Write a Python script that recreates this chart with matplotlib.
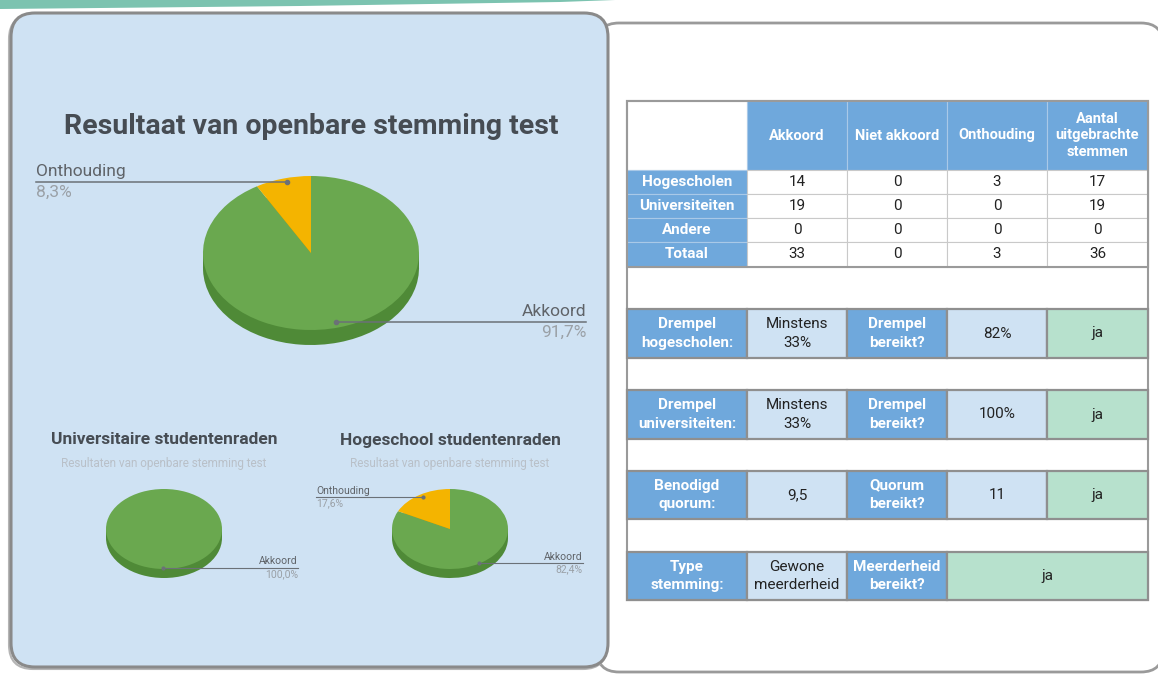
import matplotlib.pyplot as plt
from matplotlib.patches import FancyBboxPatch, Rectangle, Polygon

plt.rcParams['font.family'] = ['Roboto', 'DejaVu Sans']

W, H = 1158, 676

# ---- data ----
pie_labels = ['Akkoord', 'Onthouding']
totaal_pie = [33, 3]
univ_pie = [19, 0]
hoge_pie = [14, 3]

columns = ['Akkoord', 'Niet akkoord', 'Onthouding', 'Aantal\nuitgebrachte\nstemmen']
row_labels = ['Hogescholen', 'Universiteiten', 'Andere', 'Totaal']
akkoord = [14, 19, 0, 33]
niet_akkoord = [0, 0, 0, 0]
onthouding = [3, 0, 0, 3]
uitgebracht = [17, 19, 0, 36]

check_labels = ['Drempel\nhogescholen:', 'Drempel\nuniversiteiten:', 'Benodigd\nquorum:', 'Type\nstemming:']
check_required = ['Minstens\n33%', 'Minstens\n33%', '9,5', 'Gewone\nmeerderheid']
check_questions = ['Drempel\nbereikt?', 'Drempel\nbereikt?', 'Quorum\nbereikt?', 'Meerderheid\nbereikt?']
check_results = ['82%', '100%', '11', None]
check_answers = ['ja', 'ja', 'ja', 'ja']

# ---- colours ----
green, yellow = '#6aa84f', '#f4b400'
side_green, side_yellow = '#4f8a37', '#c89300'
blue, light_blue, mint = '#6fa8dc', '#cfe2f3', '#b7e1cd'
label_col, pct_col, line_col = '#5f6368', '#9aa0a6', '#6b7177'

fig = plt.figure(figsize=(W / 100, H / 100), dpi=100)
bg = fig.add_axes([0, 0, 1, 1], zorder=0)
bg.set_xlim(0, W)
bg.set_ylim(H, 0)
bg.axis('off')

# teal strip at the top
bg.add_patch(Polygon([(0, 0), (615, 0), (560, 2), (300, 6), (0, 9)], color='#7cc3b0', lw=0))

# right (white) panel and left (blue) panel
bg.add_patch(FancyBboxPatch((597, 23), 566, 649, boxstyle='round,pad=0,rounding_size=22',
                            facecolor='white', edgecolor='#9a9a9a', lw=2))
bg.add_patch(FancyBboxPatch((9, 15), 598, 654, boxstyle='round,pad=0,rounding_size=24',
                            facecolor='none', edgecolor='#b5b5b5', lw=1.5))
bg.add_patch(FancyBboxPatch((11, 13), 597, 654, boxstyle='round,pad=0,rounding_size=24',
                            facecolor='#cfe2f3', edgecolor='#8a8a8a', lw=2.2))


def fmt_pct(v, total):
    return f'{v / total * 100:.1f}%'.replace('.', ',')


def draw_pie(values, cx, cy, rx, ry, depth):
    ax = fig.add_axes([(cx - rx) / W, 1 - (cy + ry + depth) / H, 2 * rx / W, (2 * ry + depth) / H],
                      zorder=2)
    dd = depth / ry
    ax.add_patch(Rectangle((-1, -dd), 2, dd, color=side_green, lw=0))
    ax.pie(values, colors=[side_green, side_yellow], startangle=90, counterclock=False,
           center=(0, -dd), wedgeprops={'linewidth': 0})
    ax.pie(values, colors=[green, yellow], startangle=90, counterclock=False,
           wedgeprops={'linewidth': 0})
    ax.set_aspect('auto')
    ax.set_xlim(-1, 1)
    ax.set_ylim(-1 - dd, 1)
    ax.axis('off')


draw_pie(totaal_pie, 311, 253, 108, 77, 15)
draw_pie(univ_pie, 164, 529, 58, 40, 9)
draw_pie(hoge_pie, 450, 529, 58, 40, 9)

ov = fig.add_axes([0, 0, 1, 1], zorder=3)
ov.set_xlim(0, W)
ov.set_ylim(H, 0)
ov.axis('off')


def pie_label(name, pct, y, x0, x1, side, size, gap):
    ov.plot([x0, x1], [y, y], color=line_col, lw=1.1 if size > 9 else 0.8)
    dot_x = x1 if side == 'left' else x0
    ov.plot([dot_x], [y], 'o', color=line_col, ms=3 if size > 9 else 2)
    tx = x0 if side == 'left' else x1
    ha = 'left' if side == 'left' else 'right'
    ov.text(tx, y - gap, name, ha=ha, va='bottom', color=label_col, fontsize=size)
    ov.text(tx, y + gap, pct, ha=ha, va='top', color=pct_col, fontsize=size)


tot = sum(totaal_pie)
pie_label(pie_labels[1], fmt_pct(totaal_pie[1], tot), 182, 36, 287, 'left', 12.5, 3)
pie_label(pie_labels[0], fmt_pct(totaal_pie[0], tot), 322, 336, 586, 'right', 12.5, 3)
pie_label(pie_labels[0], fmt_pct(univ_pie[0], sum(univ_pie)), 568, 163, 298, 'right', 7.5, 1.5)
pie_label(pie_labels[1], fmt_pct(hoge_pie[1], sum(hoge_pie)), 497, 316, 423, 'left', 7.5, 1.5)
pie_label(pie_labels[0], fmt_pct(hoge_pie[0], sum(hoge_pie)), 563, 479, 583, 'right', 7.5, 1.5)

# titles
bg.text(311, 127, 'Resultaat van openbare stemming test', ha='center', va='center',
        fontsize=20.5, fontweight='bold', color='#464c53')
for cx, title, sub in [(164, 'Universitaire studentenraden', 'Resultaten van openbare stemming test'),
                       (450, 'Hogeschool studentenraden', 'Resultaat van openbare stemming test')]:
    bg.text(cx, 440, title, ha='center', va='center', fontsize=12.5, fontweight='bold', color='#464c53')
    bg.text(cx, 464, sub, ha='center', va='center', fontsize=8.5, color='#b9c0c8')

# ---- table ----
xs = [627, 747, 847, 947, 1047, 1148]
ys = [101, 170, 194, 218, 242, 267]
grid = '#c9c9c9'


def cell(x0, x1, y0, y1, face, text='', tcolor='#222222', bold=False, ec=grid, lw=0.8,
         size=10.5, spacing=1.45):
    bg.add_patch(Rectangle((x0, y0), x1 - x0, y1 - y0, facecolor=face, edgecolor=ec, lw=lw))
    if text:
        bg.text((x0 + x1) / 2, (y0 + y1) / 2, text, ha='center', va='center', color=tcolor,
                fontsize=size, fontweight='bold' if bold else 'normal', linespacing=spacing)


# outer frame of the whole table
bg.add_patch(Rectangle((xs[0], ys[0]), xs[-1] - xs[0], 600 - ys[0], facecolor='white',
                       edgecolor='#9a9a9a', lw=1.5))
cell(xs[0], xs[1], ys[0], ys[1], 'white')
for j, name in enumerate(columns):
    cell(xs[j + 1], xs[j + 2], ys[0], ys[1], blue, name, 'white', True, ec='#a9c9e8', spacing=1.25)
table_vals = [akkoord, niet_akkoord, onthouding, uitgebracht]
for i, lab in enumerate(row_labels):
    cell(xs[0], xs[1], ys[i + 1], ys[i + 2], blue, lab, 'white', True, ec='#a9c9e8', size=11)
    for j, col in enumerate(table_vals):
        cell(xs[j + 1], xs[j + 2], ys[i + 1], ys[i + 2], 'white', str(col[i]), size=11)
bg.add_patch(Rectangle((xs[0], ys[0]), xs[-1] - xs[0], ys[-1] - ys[0], facecolor='none',
                       edgecolor='#9a9a9a', lw=1.5))

block_rows = [(309, 358), (390, 439), (471, 519), (552, 600)]
ec2, lw2 = '#8f8f8f', 1.6
for i, (y0, y1) in enumerate(block_rows):
    cell(xs[0], xs[1], y0, y1, blue, check_labels[i], 'white', True, ec2, lw2, size=11)
    cell(xs[1], xs[2], y0, y1, light_blue, check_required[i], ec=ec2, lw=lw2, size=11)
    cell(xs[2], xs[3], y0, y1, blue, check_questions[i], 'white', True, ec2, lw2, size=11)
    if check_results[i] is None:
        cell(xs[3], xs[5], y0, y1, mint, check_answers[i], ec=ec2, lw=lw2, size=11)
    else:
        cell(xs[3], xs[4], y0, y1, light_blue, check_results[i], ec=ec2, lw=lw2, size=11)
        cell(xs[4], xs[5], y0, y1, mint, check_answers[i], ec=ec2, lw=lw2, size=11)

fig.savefig('out.png', dpi=100)
